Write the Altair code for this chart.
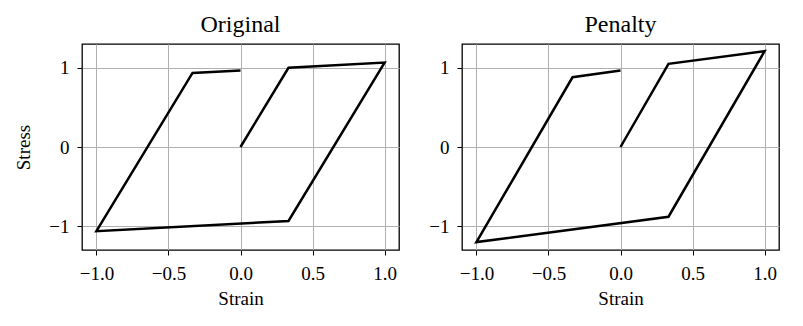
import altair as alt
import pandas as pd

# Original model
strain_orig = [0.0, 0.333, 1.0, 0.333, -1.0, -0.333, 0.0]
stress_orig = [0.0, 1.0, 1.065, -0.933, -1.062, 0.935, 0.966]

# Penalty model
strain_pen = [0.0, 0.333, 1.0, 0.333, -1.0, -0.333, 0.0]
stress_pen = [0.0, 1.05, 1.21, -0.88, -1.2, 0.88, 0.966]

x_ticks = [-1.0, -0.5, 0.0, 0.5, 1.0]
y_ticks = [-1, 0, 1]

FONT = "Liberation Serif"


def panel(strain, stress, title, show_ytitle):
    df = pd.DataFrame({"strain": strain, "stress": stress, "i": list(range(len(strain)))})
    return alt.Chart(df, title=alt.TitleParams(
        title, font=FONT, fontSize=24, fontWeight="normal", color="black",
        anchor="middle", frame="group", baseline="alphabetic", offset=-12,
    )).mark_line(color="black", strokeWidth=2.5, strokeJoin="miter", clip=True).encode(
        x=alt.X("strain:Q", scale=alt.Scale(domain=[-1.1, 1.1], nice=False, zero=False),
                axis=alt.Axis(values=x_ticks, format=".1f", title="Strain")),
        y=alt.Y("stress:Q", scale=alt.Scale(domain=[-1.3, 1.3], nice=False, zero=False),
                axis=alt.Axis(values=y_ticks, format="d",
                              title="Stress" if show_ytitle else None)),
        order="i:Q",
    ).properties(width=317, height=206)


left = panel(strain_orig, stress_orig, "Original", True)
right = panel(strain_pen, stress_pen, "Penalty", False)

chart = alt.hconcat(left, right, spacing=63, bounds="flush").properties(
    padding={"left": 14, "top": 12, "right": 5, "bottom": 5},
    background="white",
).configure_view(
    stroke="black", strokeWidth=1.3, fill="white",
).configure_axis(
    labelFont=FONT, labelFontSize=19, labelColor="black",
    titleFont=FONT, titleFontSize=19, titleColor="black", titleFontWeight="normal",
    grid=True, gridColor="#b0b0b0", gridWidth=1,
    domain=False,
    ticks=True, tickColor="black", tickSize=5, tickWidth=1,
    labelPadding=8, titlePadding=6,
).configure_axisX(
    labelPadding=9,
).configure_axisY(
    titlePadding=15,
)

chart.save("out.html", embed_options={"renderer": "svg", "actions": False})
